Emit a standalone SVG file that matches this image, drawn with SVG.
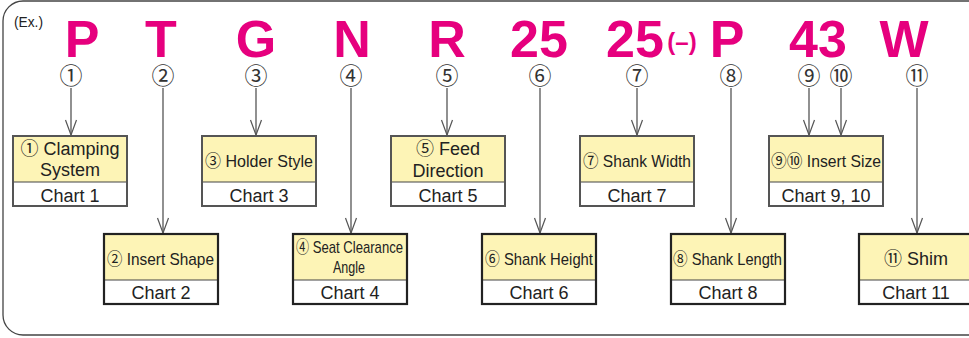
<svg xmlns="http://www.w3.org/2000/svg" width="969" height="338" viewBox="0 0 969 338">
<style>
.big{font-family:"Liberation Sans",Arial,sans-serif;font-weight:bold;font-size:52px;fill:#E6007E;text-anchor:middle}
.num{font-family:"Noto Sans CJK JP",sans-serif;font-size:23px;fill:#333;text-anchor:middle}
.lbl{font-family:"Liberation Sans","Noto Sans CJK JP",sans-serif;font-size:18px;fill:#222;text-anchor:middle}
.lbl2{font-family:"Liberation Sans","Noto Sans CJK JP",sans-serif;font-size:17px;fill:#222}
.top1{fill:#FDF4B6;stroke:none}
.bot{fill:#fff;stroke:none}
.frame1{fill:none;stroke:#555;stroke-width:2}
.frame2{fill:none;stroke:#222;stroke-width:2.2}
.div{stroke:#444;stroke-width:1.2}
.conn line{stroke:#555;stroke-width:1.3}
.conn polyline{fill:none;stroke:#555;stroke-width:1.2}
</style>
<rect x="3" y="1" width="990" height="334" rx="20" ry="20" fill="none" stroke="#444" stroke-width="1.3"/>
<text x="14" y="27" font-family="Liberation Sans, Arial, sans-serif" font-size="14" fill="#222" textLength="29" lengthAdjust="spacingAndGlyphs">(Ex.)</text>
<g id="code">
<text class="big" x="82" y="57">P</text>
<text class="big" x="161" y="57">T</text>
<text class="big" x="256" y="57">G</text>
<text class="big" x="352" y="57">N</text>
<text class="big" x="447" y="57">R</text>
<text class="big" x="539" y="57">25</text>
<text class="big" x="635" y="57">25</text>
<text x="682" y="50" font-family="Liberation Sans, Arial, sans-serif" font-weight="bold" font-size="24" fill="#E6007E" text-anchor="middle">(–)</text>
<text class="big" x="727" y="57">P</text>
<text class="big" x="818" y="57">43</text>
<text class="big" x="904" y="57">W</text>
</g>
<g id="nums">
<text class="num" x="71" y="84">①</text>
<text class="num" x="163" y="84">②</text>
<text class="num" x="256" y="84">③</text>
<text class="num" x="351" y="84">④</text>
<text class="num" x="447" y="84">⑤</text>
<text class="num" x="540" y="84">⑥</text>
<text class="num" x="637" y="84">⑦</text>
<text class="num" x="731" y="84">⑧</text>
<text class="num" x="809" y="84">⑨</text>
<text class="num" x="841" y="84">⑩</text>
<text class="num" x="917" y="84">⑪</text>
</g>
<g id="connectors" class="conn">
<line x1="71" y1="88" x2="71" y2="135"/><polyline points="65.5,120 71,135 76.5,120"/>
<line x1="163" y1="88" x2="163" y2="233"/><polyline points="157.5,218 163,233 168.5,218"/>
<line x1="256" y1="88" x2="256" y2="135"/><polyline points="250.5,120 256,135 261.5,120"/>
<line x1="351" y1="88" x2="351" y2="233"/><polyline points="345.5,218 351,233 356.5,218"/>
<line x1="447" y1="88" x2="447" y2="135"/><polyline points="441.5,120 447,135 452.5,120"/>
<line x1="540" y1="88" x2="540" y2="233"/><polyline points="534.5,218 540,233 545.5,218"/>
<line x1="637" y1="88" x2="637" y2="135"/><polyline points="631.5,120 637,135 642.5,120"/>
<line x1="731" y1="88" x2="731" y2="233"/><polyline points="725.5,218 731,233 736.5,218"/>
<line x1="809" y1="88" x2="809" y2="135"/><polyline points="803.5,120 809,135 814.5,120"/>
<line x1="841" y1="88" x2="841" y2="135"/><polyline points="835.5,120 841,135 846.5,120"/>
<line x1="917" y1="88" x2="917" y2="233"/><polyline points="911.5,218 917,233 922.5,218"/>
</g>
<g id="box1">
<rect class="top1" x="13" y="136" width="114" height="46"/><rect class="bot" x="13" y="182" width="114" height="24"/>
<line class="div" x1="13" y1="182" x2="127" y2="182"/><rect class="frame1" x="13" y="136" width="114" height="70"/>
<text class="lbl" x="70" y="155">① Clamping</text><text class="lbl" x="70" y="176">System</text>
<text class="lbl" x="70" y="202">Chart 1</text>
</g>
<g id="box3">
<rect class="top1" x="202" y="136" width="114" height="46"/><rect class="bot" x="202" y="182" width="114" height="24"/>
<line class="div" x1="202" y1="182" x2="316" y2="182"/><rect class="frame1" x="202" y="136" width="114" height="70"/>
<text class="lbl2" x="205" y="167" textLength="108" lengthAdjust="spacingAndGlyphs">③ Holder Style</text>
<text class="lbl" x="259" y="202">Chart 3</text>
</g>
<g id="box5">
<rect class="top1" x="391" y="136" width="114" height="46"/><rect class="bot" x="391" y="182" width="114" height="24"/>
<line class="div" x1="391" y1="182" x2="505" y2="182"/><rect class="frame1" x="391" y="136" width="114" height="70"/>
<text class="lbl" x="448" y="155">⑤ Feed</text><text class="lbl" x="448" y="177">Direction</text>
<text class="lbl" x="448" y="202">Chart 5</text>
</g>
<g id="box7">
<rect class="top1" x="580" y="136" width="114" height="46"/><rect class="bot" x="580" y="182" width="114" height="24"/>
<line class="div" x1="580" y1="182" x2="694" y2="182"/><rect class="frame1" x="580" y="136" width="114" height="70"/>
<text class="lbl2" x="583" y="167" textLength="108" lengthAdjust="spacingAndGlyphs">⑦ Shank Width</text>
<text class="lbl" x="637" y="202">Chart 7</text>
</g>
<g id="box9">
<rect class="top1" x="769" y="136" width="114" height="46"/><rect class="bot" x="769" y="182" width="114" height="24"/>
<line class="div" x1="769" y1="182" x2="883" y2="182"/><rect class="frame1" x="769" y="136" width="114" height="70"/>
<text class="lbl2" x="771" y="167" textLength="110" lengthAdjust="spacingAndGlyphs">⑨⑩ Insert Size</text>
<text class="lbl" x="826" y="202">Chart 9, 10</text>
</g>
<g id="box2">
<rect class="top1" x="104" y="234" width="114" height="46"/><rect class="bot" x="104" y="280" width="114" height="24"/>
<line class="div" x1="104" y1="280" x2="218" y2="280"/><rect class="frame2" x="104" y="234" width="114" height="70"/>
<text class="lbl2" x="107" y="265" textLength="107" lengthAdjust="spacingAndGlyphs">② Insert Shape</text>
<text class="lbl" x="161" y="299">Chart 2</text>
</g>
<g id="box4">
<rect class="top1" x="293" y="234" width="114" height="46"/><rect class="bot" x="293" y="280" width="114" height="24"/>
<line class="div" x1="293" y1="280" x2="407" y2="280"/><rect class="frame2" x="293" y="234" width="114" height="70"/>
<text class="lbl2" x="296" y="253" font-size="16" textLength="107" lengthAdjust="spacingAndGlyphs">④ Seat Clearance</text>
<text class="lbl2" x="333" y="273" font-size="16" textLength="32" lengthAdjust="spacingAndGlyphs">Angle</text>
<text class="lbl" x="350" y="299">Chart 4</text>
</g>
<g id="box6">
<rect class="top1" x="482" y="234" width="114" height="46"/><rect class="bot" x="482" y="280" width="114" height="24"/>
<line class="div" x1="482" y1="280" x2="596" y2="280"/><rect class="frame2" x="482" y="234" width="114" height="70"/>
<text class="lbl2" x="485" y="265" textLength="108" lengthAdjust="spacingAndGlyphs">⑥ Shank Height</text>
<text class="lbl" x="539" y="299">Chart 6</text>
</g>
<g id="box8">
<rect class="top1" x="671" y="234" width="114" height="46"/><rect class="bot" x="671" y="280" width="114" height="24"/>
<line class="div" x1="671" y1="280" x2="785" y2="280"/><rect class="frame2" x="671" y="234" width="114" height="70"/>
<text class="lbl2" x="673" y="265" textLength="109" lengthAdjust="spacingAndGlyphs">⑧ Shank Length</text>
<text class="lbl" x="728" y="299">Chart 8</text>
</g>
<g id="box11">
<rect class="top1" x="859" y="234" width="114" height="46"/><rect class="bot" x="859" y="280" width="114" height="24"/>
<line class="div" x1="859" y1="280" x2="973" y2="280"/><rect class="frame2" x="859" y="234" width="114" height="70"/>
<text class="lbl" x="916" y="265">⑪ Shim</text>
<text class="lbl" x="916" y="299">Chart 11</text>
</g>
</svg>
